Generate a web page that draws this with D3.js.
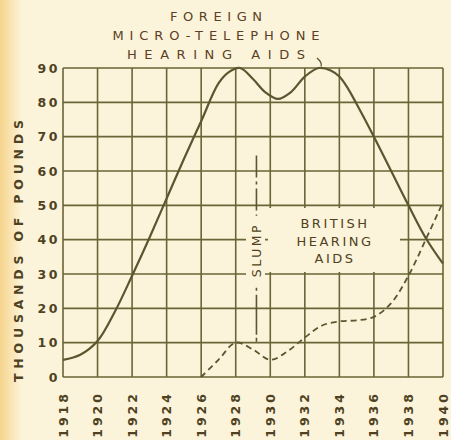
<!DOCTYPE html>
<html lang="en">
  <head>
    <meta charset="UTF-8" />
    <title>hearing aids</title>
    <style>
      body { margin: 0; background: #fcf4da; }
      svg { display: block; }
    </style>
  </head>
  <body>
    <svg width="451" height="440" version="1.1" xmlns="http://www.w3.org/2000/svg"></svg>
  </body>
  <script src="https://cdn.jsdelivr.net/npm/d3@7"></script>
  <script>
    // values
    const foreignYears = [1918, 1919, 1920, 1921, 1922, 1923, 1924, 1925, 1926, 1927, 1927.6, 1928.25, 1929, 1929.7, 1930.45, 1931.2, 1932, 1932.8, 1933.5, 1934, 1934.5, 1935, 1936, 1937, 1938, 1939, 1940];
    const foreignValues = [5, 6.5, 10.5, 19, 29.5, 40.5, 52, 63.5, 74.5, 85.5, 88.8, 90, 86.8, 83, 81, 83, 87.5, 90, 89.3, 87.5, 84, 79.5, 70, 60, 50, 40.5, 33];
    const britishYears = [1926, 1927, 1928, 1929, 1930, 1931, 1932, 1933, 1934, 1935, 1936, 1937, 1938, 1939, 1940];
    const britishValues = [0, 5, 10, 8, 5, 7.5, 11.5, 15, 16.2, 16.5, 17.5, 21.5, 29.5, 40, 51];
    const yearTicks = [1918, 1920, 1922, 1924, 1926, 1928, 1930, 1932, 1934, 1936, 1938, 1940];
    const valueTicks = [0, 10, 20, 30, 40, 50, 60, 70, 80, 90];
    const titleLines = ["FOREIGN", "MICRO-TELEPHONE", "HEARING AIDS"];
    const britishLabel = ["BRITISH", "HEARING", "AIDS"];
    const slumpYear = 1929.2;

    const ink = "#5b5630";
    const textInk = "#4e4222";
    const paper = "#fcf4da";

    const svg = d3.select("svg");
    const x = d3.scaleLinear().domain([1918, 1940]).range([63, 443]);
    const y = d3.scaleLinear().domain([0, 90]).range([377, 68]);

    // scanned edge tint on the left
    const defs = svg.append("defs");
    const grad = defs.append("linearGradient").attr("id", "edge");
    grad.append("stop").attr("offset", "0%").attr("stop-color", "#f6d48c");
    grad.append("stop").attr("offset", "100%").attr("stop-color", paper);
    svg.append("rect").attr("width", 451).attr("height", 440).attr("fill", paper);
    svg.append("rect").attr("width", 22).attr("height", 440).attr("fill", "url(#edge)");

    // grid
    const grid = svg.append("g").attr("stroke", "#6a6436").attr("stroke-width", 1.6);
    grid.selectAll(".vline").data(yearTicks).join("line")
      .attr("x1", d => x(d)).attr("x2", d => x(d))
      .attr("y1", y(0)).attr("y2", y(90));
    grid.selectAll(".hline").data(valueTicks).join("line")
      .attr("y1", d => y(d)).attr("y2", d => y(d))
      .attr("x1", x(1918)).attr("x2", x(1940));

    // label backgrounds cut the grid
    svg.append("rect").attr("x", 246).attr("y", 212).attr("width", 19).attr("height", 76).attr("fill", paper);
    svg.append("rect").attr("x", 268).attr("y", 208).attr("width", 132).attr("height", 64).attr("fill", paper);

    // slump marker
    svg.append("line")
      .attr("x1", x(slumpYear)).attr("x2", x(slumpYear))
      .attr("y1", y(64.5)).attr("y2", y(47))
      .attr("stroke", ink).attr("stroke-width", 1.6)
      .attr("stroke-dasharray", "22,4,3,4");
    svg.append("line")
      .attr("x1", x(slumpYear)).attr("x2", x(slumpYear))
      .attr("y1", y(26)).attr("y2", y(10))
      .attr("stroke", ink).attr("stroke-width", 1.6)
      .attr("stroke-dasharray", "3,4,40");
    svg.append("text")
      .attr("transform", `translate(${x(slumpYear)},250) rotate(-90)`)
      .attr("text-anchor", "middle").attr("dominant-baseline", "central")
      .attr("font-family", "DejaVu Sans").attr("font-size", 12.5)
      .attr("letter-spacing", 2.5).attr("fill", textInk)
      .text("SLUMP");

    // curves
    const foreign = foreignYears.map((d, i) => [d, foreignValues[i]]);
    const british = britishYears.map((d, i) => [d, britishValues[i]]);
    const line = d3.line().x(d => x(d[0])).y(d => y(d[1])).curve(d3.curveCatmullRom.alpha(0.5));
    svg.append("path").attr("d", line(foreign))
      .attr("fill", "none").attr("stroke", ink).attr("stroke-width", 2.2);
    svg.append("path").attr("d", line(british))
      .attr("fill", "none").attr("stroke", ink).attr("stroke-width", 1.8)
      .attr("stroke-dasharray", "6,4");

    // y tick labels
    svg.append("g").selectAll("text").data(valueTicks).join("text")
      .attr("x", 60).attr("y", d => y(d))
      .attr("text-anchor", "end").attr("dominant-baseline", "central")
      .attr("font-family", "DejaVu Sans").attr("font-weight", "bold")
      .attr("font-size", 12.5).attr("letter-spacing", 2.5).attr("fill", textInk)
      .text(d => d);

    // x tick labels, read bottom to top
    svg.append("g").selectAll("text").data(yearTicks).join("text")
      .attr("transform", d => `translate(${x(d)},391) rotate(-90)`)
      .attr("text-anchor", "end").attr("dominant-baseline", "central")
      .attr("font-family", "DejaVu Sans").attr("font-weight", "bold")
      .attr("font-size", 12.5).attr("letter-spacing", 3).attr("fill", textInk)
      .text(d => d);

    // y axis title
    svg.append("text")
      .attr("transform", "translate(18,251) rotate(-90)")
      .attr("text-anchor", "middle").attr("dominant-baseline", "central")
      .attr("font-family", "DejaVu Sans").attr("font-weight", "bold")
      .attr("font-size", 12.5).attr("fill", textInk)
      .attr("textLength", 262).attr("lengthAdjust", "spacing")
      .text("THOUSANDS OF POUNDS");

    // foreign title above the chart
    const titleWidths = [92, 207, 178];
    svg.append("g").selectAll("text").data(titleLines).join("text")
      .attr("x", 216).attr("y", (d, i) => 21 + i * 19)
      .attr("text-anchor", "middle")
      .attr("font-family", "DejaVu Sans").attr("font-size", 13)
      .attr("fill", "#5a4024")
      .attr("textLength", (d, i) => titleWidths[i]).attr("lengthAdjust", "spacing")
      .text(d => d);

    // leader from title to curve
    const lead = d3.path();
    lead.moveTo(x(1932.7), 58);
    lead.quadraticCurveTo(x(1933.0), 62, x(1932.95), y(90.5));
    svg.append("path").attr("d", lead.toString())
      .attr("fill", "none").attr("stroke", ink).attr("stroke-width", 1.3);

    // british label
    svg.append("g").selectAll("text").data(britishLabel).join("text")
      .attr("x", 335).attr("y", (d, i) => 228 + i * 17.5)
      .attr("text-anchor", "middle")
      .attr("font-family", "DejaVu Sans").attr("font-size", 13)
      .attr("letter-spacing", 2.5).attr("fill", textInk)
      .text(d => d);
  </script>
</html>
